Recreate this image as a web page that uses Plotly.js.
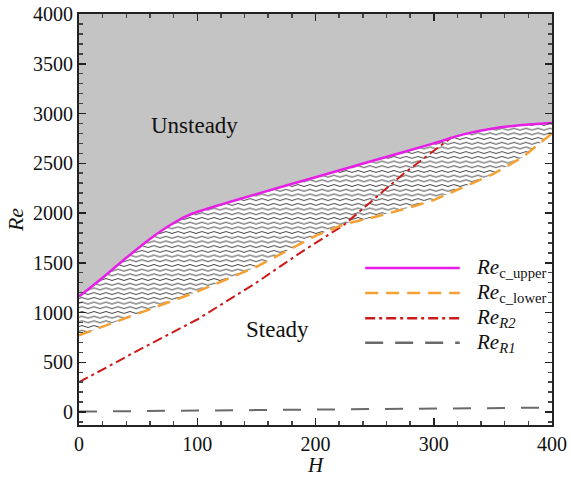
<!DOCTYPE html>
<html>
<head>
<meta charset="utf-8">
<script src="https://cdn.plot.ly/plotly-3.0.1.min.js"></script>
<style>html,body{margin:0;padding:0;background:#fff;}#chart{width:571px;height:477px;}</style>
</head>
<body>
<div id="chart"></div>
<script>
// ---- data ----
const H_upper  = [0, 20, 40, 60, 80, 95, 120, 150, 200, 250, 300, 325, 350, 375, 400];
const Re_upper = [1160, 1350, 1550, 1740, 1900, 1990, 2085, 2190, 2360, 2530, 2700, 2790, 2850, 2885, 2905];

const H_lower  = [0, 50, 100, 150, 200, 225, 250, 275, 300, 325, 350, 375, 400];
const Re_lower = [770, 990, 1210, 1460, 1770, 1890, 1960, 2040, 2130, 2260, 2390, 2560, 2800];

const H_R2  = [0, 50, 100, 150, 187, 224, 275, 315];
const Re_R2 = [300, 620, 930, 1300, 1600, 1880, 2400, 2760];

const H_R1  = [0, 400];
const Re_R1 = [5, 45];

const Re_top = 4000;
const xTicks = [0, 100, 200, 300, 400];
const yTicks = [0, 500, 1000, 1500, 2000, 2500, 3000, 3500, 4000];

const legendLabels = ['<i>Re</i><sub>c_upper</sub>', '<i>Re</i><sub>c_lower</sub>', '<i>Re<sub>R2</sub></i>', '<i>Re<sub>R1</sub></i>'];
const regionLabels = ['Unsteady', 'Steady'];

const cUpper = '#e61ee6', cLower = '#f5a033', cR2 = '#cc1a1a', cR1 = '#6a6a6a';
const serif = "'Liberation Serif', 'Times New Roman', serif";
const upperShape = {shape: 'spline', smoothing: 0.5};

const traces = [
  // hatched band: lower boundary
  {x: H_lower, y: Re_lower, mode: 'lines', line: {width: 0}, showlegend: false, hoverinfo: 'skip'},
  // hatched band: upper boundary, filled to lower
  {x: H_upper, y: Re_upper, mode: 'lines', line: Object.assign({width: 0}, upperShape), fill: 'tonexty',
   fillcolor: '#ffffff',
   fillpattern: {shape: '-', size: 5, solidity: 0.2, fgcolor: '#333333', bgcolor: '#ffffff', fillmode: 'replace'},
   showlegend: false, hoverinfo: 'skip'},
  // gray region above upper curve
  {x: H_upper, y: H_upper.map(() => Re_top), mode: 'lines', line: {width: 0}, fill: 'tonexty',
   fillcolor: '#c4c4c4', showlegend: false, hoverinfo: 'skip'},
  // lines
  {x: H_R1, y: Re_R1, mode: 'lines', line: {color: cR1, width: 2, dash: '18px,16px'}, showlegend: false},
  {x: H_R2, y: Re_R2, mode: 'lines', line: {color: cR2, width: 2, dash: '10px,4px,3px,4px'}, showlegend: false},
  {x: H_lower, y: Re_lower, mode: 'lines', line: {color: cLower, width: 2.5, dash: '13px,8px'}, showlegend: false},
  {x: H_upper, y: Re_upper, mode: 'lines', line: Object.assign({color: cUpper, width: 2.5}, upperShape), showlegend: false}
];

// manual legend (line samples + labels) in paper coordinates
const legColors = [cUpper, cLower, cR2, cR1];
const legDash = ['solid', '13px,8px', '10px,4px,3px,4px', '18px,12px'];
const legY = [0.382, 0.321, 0.260, 0.200];
const shapes = legY.map((yy, i) => ({
  type: 'line', xref: 'paper', yref: 'paper', x0: 0.605, x1: 0.805, y0: yy, y1: yy,
  line: {color: legColors[i], width: 2.5, dash: legDash[i]}
}));
const annotations = legY.map((yy, i) => ({
  xref: 'paper', yref: 'paper', x: 0.835, y: yy, xanchor: 'left', yanchor: 'middle',
  text: legendLabels[i], showarrow: false, font: {family: serif, size: 21, color: '#111'}
}));
annotations.push({xref: 'x', yref: 'y', x: 98, y: 2880, text: regionLabels[0], showarrow: false,
  font: {family: serif, size: 23, color: '#111'}});
annotations.push({xref: 'x', yref: 'y', x: 168, y: 830, text: regionLabels[1], showarrow: false,
  font: {family: serif, size: 23, color: '#111'}});

const axisCommon = {
  showgrid: false, zeroline: false, showline: true, linecolor: '#222', linewidth: 2,
  mirror: 'ticks', ticks: 'inside', ticklen: 7, tickwidth: 1.5, tickcolor: '#222',
  tickfont: {family: serif, size: 20, color: '#111'}
};

const layout = {
  width: 571, height: 477,
  margin: {l: 79, r: 19, t: 14, b: 52},
  paper_bgcolor: '#ffffff', plot_bgcolor: '#ffffff',
  showlegend: false,
  xaxis: Object.assign({}, axisCommon, {
    range: [0, 400], tickvals: xTicks,
    minor: {dtick: 20, ticks: 'inside', ticklen: 4, tickcolor: '#444', showgrid: false},
    title: {text: '<i>H</i>', font: {family: serif, size: 21, color: '#111'}, standoff: 9}
  }),
  yaxis: Object.assign({}, axisCommon, {
    range: [-130, 4000], tickvals: yTicks,
    minor: {dtick: 100, tick0: 0, ticks: 'inside', ticklen: 4, tickcolor: '#444', showgrid: false},
    title: {text: '<i>Re</i>', font: {family: serif, size: 22, color: '#111'}, standoff: 3}
  }),
  shapes: shapes,
  annotations: annotations
};

Plotly.newPlot('chart', traces, layout, {displayModeBar: false, staticPlot: true}).then(() => {
  // restyle the hatch pattern into wavy lines
  const NS = 'http://www.w3.org/2000/svg';
  document.querySelectorAll('#chart pattern').forEach(p => {
    p.setAttribute('width', '12');
    p.setAttribute('height', '4.7');
    p.setAttribute('patternUnits', 'userSpaceOnUse');
    p.removeAttribute('patternTransform');
    while (p.firstChild) p.removeChild(p.firstChild);
    const r = document.createElementNS(NS, 'rect');
    r.setAttribute('width', '12'); r.setAttribute('height', '4.7'); r.setAttribute('fill', '#ffffff');
    p.appendChild(r);
    const path = document.createElementNS(NS, 'path');
    path.setAttribute('d', 'M0,2.35 Q3,0.5 6,2.35 T12,2.35');
    path.setAttribute('fill', 'none');
    path.setAttribute('stroke', '#2a2a2a');
    path.setAttribute('stroke-width', '0.9');
    p.appendChild(path);
  });
});
</script>
</body>
</html>
